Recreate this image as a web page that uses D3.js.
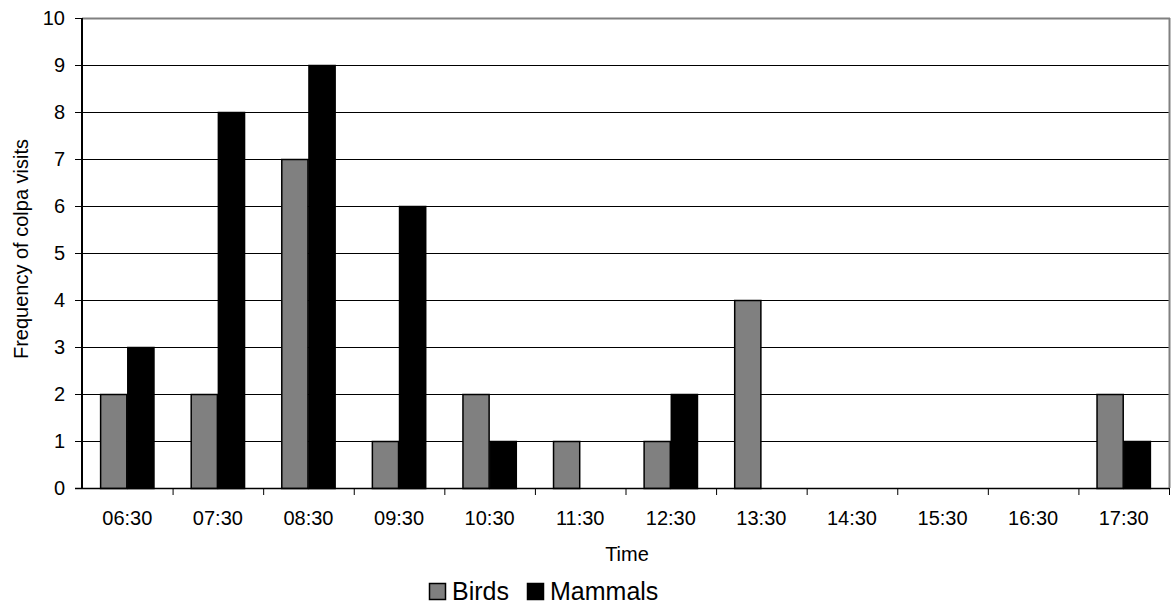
<!DOCTYPE html>
<html><head><meta charset="utf-8">
<script src="https://cdn.jsdelivr.net/npm/d3@7"></script>
<style>body{margin:0;background:#fff}svg{display:block;font-family:"Liberation Sans",Arial,sans-serif}</style>
</head><body><svg id="c" width="1176" height="607"></svg>
<script>
const categories = ["06:30","07:30","08:30","09:30","10:30","11:30","12:30","13:30","14:30","15:30","16:30","17:30"];
const birds   = [2,2,7,1,2,1,1,4,0,0,0,2];
const mammals = [3,8,9,6,1,0,2,0,0,0,0,1];
const seriesNames = ["Birds","Mammals"];
const seriesColors = ["#808080","#000000"];
const yTicks = [0,1,2,3,4,5,6,7,8,9,10];

const svg = d3.select("#c");
const L=82, R=1169, T=18, B=488;
const x = d3.scaleBand().domain(categories).range([L,R]).paddingInner(0.4).paddingOuter(0.2);
const x0 = d3.scaleBand().domain(categories).range([L,R]);
const xs = d3.scaleBand().domain(seriesNames).range([0,x.bandwidth()]);
const y = d3.scaleLinear().domain([0,10]).range([B,T]);

// grid
svg.append("g").selectAll("line").data(yTicks.filter(d=>d>0&&d<10)).join("line")
  .attr("x1",L).attr("x2",R).attr("y1",d=>y(d)+0.5).attr("y2",d=>y(d)+0.5)
  .attr("stroke","#000").attr("stroke-width",1);
// top & right border
svg.append("line").attr("x1",L).attr("x2",R+1).attr("y1",y(10)+0.5).attr("y2",y(10)+0.5).attr("stroke","#808080").attr("stroke-width",2);
svg.append("line").attr("x1",R+0.5).attr("x2",R+0.5).attr("y1",T).attr("y2",B).attr("stroke","#808080").attr("stroke-width",2);

const data = categories.map((c,i)=>({c, vals:[birds[i],mammals[i]]}));
const g = svg.append("g").selectAll("g").data(data).join("g").attr("transform",d=>`translate(${x(d.c)},0)`);
g.selectAll("rect").data(d=>d.vals.map((v,j)=>({v,s:seriesNames[j],col:seriesColors[j]})).filter(d=>d.v>0)).join("rect")
  .attr("x",d=>xs(d.s)+0.5).attr("width",xs.bandwidth()-1)
  .attr("y",d=>y(d.v)+0.5).attr("height",d=>B-y(d.v))
  .attr("fill",d=>d.col).attr("stroke","#000").attr("stroke-width",1.5);

// y axis
const ya = svg.append("g").attr("transform",`translate(${L},0)`)
  .call(d3.axisLeft(y).tickValues(yTicks).tickSize(7).tickPadding(10).tickFormat(d3.format("d")));
ya.select(".domain").attr("stroke","#000").attr("stroke-width",2).attr("d",`M0,${T}V${B}`);
ya.selectAll(".tick line").attr("stroke","#000");
ya.selectAll("text").attr("font-size",20).attr("fill","#000").attr("font-family","Liberation Sans, Arial, sans-serif");

// x axis
const xa = svg.append("g").attr("transform",`translate(0,${B})`)
  .call(d3.axisBottom(x0).tickSize(0).tickPadding(23));
xa.select(".domain").attr("stroke","#000").attr("stroke-width",1.5).attr("d",`M${L-7},0.5H${R}`);
xa.selectAll("text").attr("font-size",20).attr("fill","#000").attr("font-family","Liberation Sans, Arial, sans-serif");
svg.append("g").selectAll("line").data(categories.slice(1).concat(["end"])).join("line")
  .attr("x1",(d,i)=>x0.step()*(i+1)+L+0.5).attr("x2",(d,i)=>x0.step()*(i+1)+L+0.5)
  .attr("y1",B).attr("y2",B+7).attr("stroke","#000");

// titles
svg.append("text").attr("x",627).attr("y",561).attr("text-anchor","middle").attr("font-size",20).text("Time");
svg.append("text").attr("transform",`translate(28,249) rotate(-90)`).attr("text-anchor","middle").attr("font-size",20).text("Frequency of colpa visits");

// legend
const lg = svg.append("g");
const items = [{n:"Birds",c:seriesColors[0],x:429},{n:"Mammals",c:seriesColors[1],x:527}];
items.forEach(it=>{
  lg.append("rect").attr("x",it.x+0.5).attr("y",583.5).attr("width",16).attr("height",16).attr("fill",it.c).attr("stroke","#000").attr("stroke-width",1.5);
  lg.append("text").attr("x",it.x+23).attr("y",600).attr("font-size",25).text(it.n);
});
</script></body></html>
